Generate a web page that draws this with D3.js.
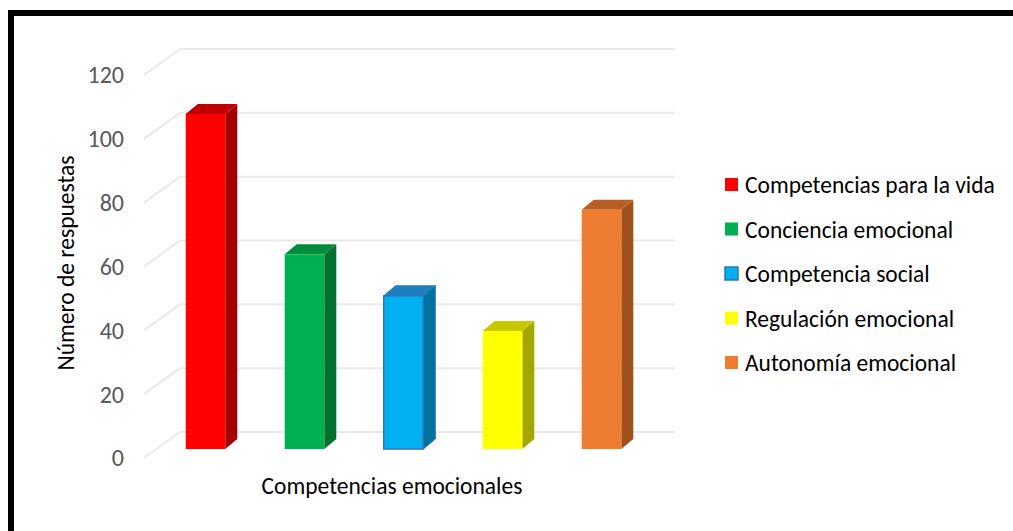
<!DOCTYPE html>
<html><head><meta charset="utf-8">
<script src="https://cdn.jsdelivr.net/npm/d3@7"></script>
<style>
html,body{margin:0;padding:0;background:#fff;}
svg{display:block;font-family:Carlito,"Liberation Sans","DejaVu Sans",sans-serif;}
</style></head>
<body>
<svg id="chart" width="1013" height="531"></svg>
<script>
const categories = ["Competencias para la vida","Conciencia emocional","Competencia social","Regulación emocional","Autonomía emocional"];
const values = [105, 61, 48, 37, 75];
const frontColors = ["#FF0000","#00B050","#00B0F0","#FFFF00","#ED7D31"];
const sideColors = ["#A50000","#00702F","#00729E","#A6A600","#A0501C"];
const topColors = ["#C00000","#008B3C","#1E7EC2","#C8C800","#B85E26"];
const strokeColors = [null,null,"#2E75B6",null,null];
const yTicks = [0,20,40,60,80,100,120];

const svg = d3.select("#chart");

// frame
svg.append("rect").attr("x",11).attr("y",13).attr("width",1100).attr("height",600)
  .attr("fill","none").attr("stroke","#000").attr("stroke-width",6);

const y = d3.scaleLinear().domain([0,120]).range([432,49]);
const x = d3.scaleBand().domain(categories).range([180,675]).paddingInner(0.6).paddingOuter(0.3);

const wallDX = -36, wallDY = 26;
const frontDX = -24, frontDY = 17;
const depthDX = 12, depthDY = -10;

const grid = svg.append("g");
yTicks.forEach(t => {
  grid.append("line").attr("x1",180).attr("x2",675).attr("y1",y(t)).attr("y2",y(t))
    .attr("stroke","#E9E9E9").attr("stroke-width",2);
  grid.append("line").attr("x1",180+wallDX).attr("y1",y(t)+wallDY).attr("x2",180).attr("y2",y(t))
    .attr("stroke","#E9E9E9").attr("stroke-width",2);
  grid.append("text").attr("x",124).attr("y",y(t)+wallDY).attr("dy","0.35em")
    .attr("text-anchor","end").attr("font-size",24).attr("fill","#595959").text(t);
});

const bars = svg.append("g");
categories.forEach((c,i) => {
  const x0 = x(c)+frontDX, x1 = x0 + x.bandwidth();
  const yb = y(0)+frontDY, yt = y(values[i])+frontDY;
  bars.append("path").attr("d",`M${x1},${yb}L${x1+depthDX},${yb+depthDY}L${x1+depthDX},${yt+depthDY}L${x1},${yt}Z`)
    .attr("fill",sideColors[i]).attr("stroke",strokeColors[i]||"none").attr("stroke-width",1);
  bars.append("path").attr("d",`M${x0},${yt}L${x0+depthDX},${yt+depthDY}L${x1+depthDX},${yt+depthDY}L${x1},${yt}Z`)
    .attr("fill",topColors[i]).attr("stroke",strokeColors[i]||"none").attr("stroke-width",1);
  bars.append("rect").attr("x",x0).attr("y",yt).attr("width",x.bandwidth()).attr("height",yb-yt)
    .attr("fill",frontColors[i]).attr("stroke",strokeColors[i]||"none").attr("stroke-width",1.5);
});

svg.append("text").attr("transform","translate(66,263) rotate(-90)")
  .attr("text-anchor","middle").attr("dy","0.35em").attr("font-size",23.5).attr("fill","#000")
  .text("Número de respuestas");
svg.append("text").attr("x",392).attr("y",486).attr("dy","0.35em")
  .attr("text-anchor","middle").attr("font-size",23.5).attr("fill","#000")
  .text("Competencias emocionales");

const leg = svg.append("g");
categories.forEach((c,i) => {
  const ly = 185 + i*44.5;
  leg.append("rect").attr("x",725).attr("y",ly-7).attr("width",13).attr("height",13)
    .attr("fill",frontColors[i]).attr("stroke",strokeColors[i]||"none").attr("stroke-width",1.5);
  leg.append("text").attr("x",745).attr("y",ly).attr("dy","0.35em")
    .attr("font-size",23.5).attr("fill","#000").text(c);
});
</script>
</body></html>
